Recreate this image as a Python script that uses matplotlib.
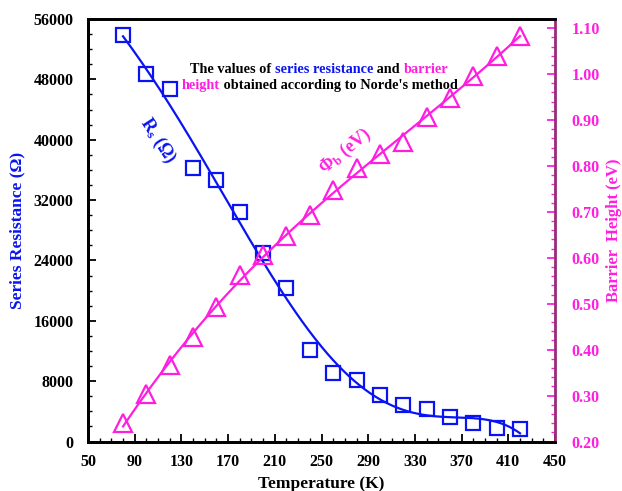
import numpy as np
import matplotlib
matplotlib.use("Agg")
import matplotlib.pyplot as plt
from matplotlib.ticker import MultipleLocator, FormatStrFormatter

plt.rcParams["font.family"] = ["Liberation Serif", "DejaVu Serif"]
plt.rcParams["font.weight"] = "bold"
plt.rcParams["mathtext.fontset"] = "custom"
plt.rcParams["mathtext.rm"] = "Liberation Serif:bold"
plt.rcParams["mathtext.it"] = "Liberation Serif:italic:bold"
plt.rcParams["mathtext.bf"] = "Liberation Serif:bold"

temperature = [80, 100, 120, 140, 160, 180, 200, 220, 240, 260, 280, 300, 320, 340, 360, 380, 400, 420]
rs_ohm = [53900, 48700, 46700, 36200, 34650, 30400, 25000, 20300, 12100, 9050, 8150, 6100, 4850, 4300, 3200, 2500, 1850, 1650]
phi_b_ev = [0.241, 0.303, 0.367, 0.427, 0.493, 0.562, 0.606, 0.647, 0.693, 0.747, 0.795, 0.826,
            0.853, 0.907, 0.947, 0.996, 1.039, 1.083]
x_ticks = [50, 90, 130, 170, 210, 250, 290, 330, 370, 410, 450]

BLUE = "#0a14f0"
MAGENTA = "#ff1ee0"
SPINE_R = "#9b2a78"

T = np.asarray(temperature, dtype=float)
rs = np.asarray(rs_ohm, dtype=float)
phi = np.asarray(phi_b_ev, dtype=float)

# smooth fit lines like the original plot
tt = np.linspace(T.min(), T.max(), 300)
rs_fit = np.polyval(np.polyfit(T, rs, 5), tt)
phi_fit = np.polyval(np.polyfit(T, phi, 3), tt)

fig = plt.figure(figsize=(6.22, 4.91), dpi=100)
ax = fig.add_axes([0.1415, 0.1008, 0.7508, 0.8605])
ax2 = ax.twinx()

ax.plot(tt, rs_fit, color=BLUE, linewidth=1.6, zorder=2)
ax.plot(T, rs, linestyle="none", marker="s", markersize=10, markerfacecolor="none",
        markeredgecolor=BLUE, markeredgewidth=1.6, zorder=3)
ax2.plot(tt, phi_fit, color=MAGENTA, linewidth=1.6, zorder=2)
ax2.plot(T, phi, linestyle="none", marker="^", markersize=13, markerfacecolor="none",
         markeredgecolor=MAGENTA, markeredgewidth=1.6, zorder=3)

ax.set_xlim(50, 450)
ax.set_ylim(0, 56000)
ax2.set_ylim(0.2, 1.12)

ax.set_xticks(x_ticks)
ax.xaxis.set_minor_locator(MultipleLocator(10))
ax.yaxis.set_major_locator(MultipleLocator(8000))
ax.yaxis.set_minor_locator(MultipleLocator(2000))
ax2.yaxis.set_major_locator(MultipleLocator(0.1))
ax2.yaxis.set_minor_locator(MultipleLocator(0.02))
ax2.yaxis.set_major_formatter(FormatStrFormatter("%.2f"))

ax.tick_params(axis="x", which="major", pad=9)
ax.tick_params(axis="y", which="major", pad=10.5)
ax.tick_params(axis="both", which="major", direction="in", length=6, width=1.3,
               labelsize=11.5, colors="black", right=False, top=False)
ax.tick_params(axis="both", which="minor", direction="in", length=3, width=1.0,
               right=False, top=False)
ax2.tick_params(axis="y", which="major", direction="in", length=6, width=1.3,
                labelsize=11.5, colors=MAGENTA, pad=12)
ax2.tick_params(axis="y", which="minor", direction="in", length=3, width=1.0, colors=MAGENTA)
for lbl in ax.get_xticklabels() + ax.get_yticklabels() + ax2.get_yticklabels():
    lbl.set_fontweight("bold")

for side in ["left", "bottom", "top"]:
    ax.spines[side].set_linewidth(2.0)
    ax2.spines[side].set_linewidth(2.0)
ax2.spines["right"].set_color(SPINE_R)
ax2.spines["right"].set_linewidth(2.0)
ax.spines["right"].set_visible(False)

ax.set_xlabel("Temperature (K)", fontsize=12.5, fontweight="bold", labelpad=4)
ax.set_ylabel("Series Resistance (Ω)", fontsize=12.5, fontweight="bold", color=BLUE, labelpad=6)
ax2.set_ylabel("Barrier  Height (eV)", fontsize=12, fontweight="bold", color=MAGENTA, labelpad=4)

# curve labels
ax.text(110, 39900, r"R$_{\mathrm{s}}$ (Ω)", color=BLUE, fontsize=13, fontweight="bold",
        rotation=-57, ha="center", va="center")
ax2.text(270, 0.832, "Φ$_{\\mathrm{b}}$ (eV)", color=MAGENTA, fontsize=13, fontweight="bold",
         rotation=39, ha="center", va="center")

# two-colour note, pieces chained one after the other
def colored_line(pieces, x, y):
    prev = ax.text(x, y, pieces[0][0], color=pieces[0][1], fontsize=10.3, fontweight="bold",
                   transform=ax.transAxes, ha="left", va="baseline")
    for txt, col in pieces[1:]:
        prev = ax.annotate(txt, xy=(1, 0), xycoords=prev, color=col, fontsize=10.3,
                           fontweight="bold", ha="left", va="bottom")

colored_line([("The values of ", "black"), ("series resistance", BLUE), (" and ", "black"),
              ("barrier", MAGENTA)], 0.218, 0.872)
colored_line([("height", MAGENTA), (" obtained according to Norde's method", "black")], 0.201, 0.834)

fig.savefig("out.png", dpi=100)
